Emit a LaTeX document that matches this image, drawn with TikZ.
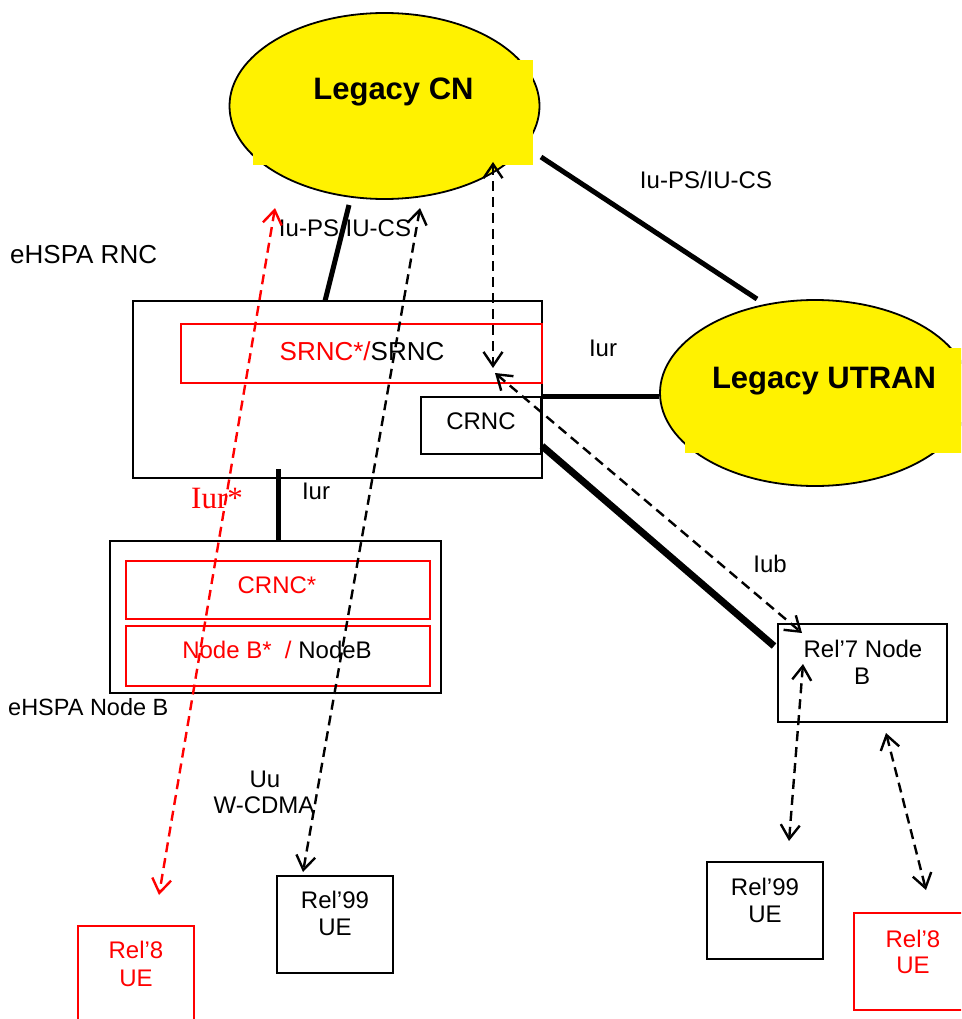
\documentclass[tikz,border=0pt]{standalone}
\usepackage{fontspec}
\setmainfont{Liberation Sans}
\newfontfamily\seriffam{Liberation Serif}
\usetikzlibrary{shapes.geometric,arrows.meta}
\begin{document}
\begin{tikzpicture}[x=1pt,y=-1pt,
  lbl/.style={inner sep=0pt, anchor=base, font=\fontsize{24}{27}\selectfont},
  biglbl/.style={inner sep=0pt, anchor=base, font=\fontsize{26}{29}\selectfont},
  cloudlbl/.style={inner sep=0pt, anchor=base, font=\fontsize{31}{34}\selectfont\bfseries},
  box/.style={draw, line width=2pt, inner sep=0pt},
  redbox/.style={draw=red, line width=2pt, inner sep=0pt},
  cloud/.style={ellipse, draw, line width=1.8pt, fill=yellow, minimum width=310pt, minimum height=186pt, inner sep=0pt},
  ybox/.style={fill=yellow, inner sep=0pt},
  fatlink/.style={line width=5pt},
  heavylink/.style={line width=7pt},
  dlink/.style={line width=2.4pt, dash pattern=on 10pt off 6pt,
    {Straight Barb[length=14pt,width=19pt]}-{Straight Barb[length=14pt,width=19pt]}},
]
\useasboundingbox (0,0) rectangle (961,1019);
\clip (0,0) rectangle (961,1019);

% clouds
\node[cloud] (cn) at (384.5,106) {};
\node[ybox, minimum width=280pt, minimum height=105pt] (cnfill) at (393,112.5) {};
\node[cloudlbl] (cntext) at (393.5,100) {Legacy CN};

\node[cloud] (utran) at (815,393) {};
\node[ybox, minimum width=290pt, minimum height=105pt] (utranfill) at (830,400.5) {};
\node[cloudlbl] (utrantext) at (824,388) {Legacy UTRAN};

% eHSPA RNC
\node[box, minimum width=409pt, minimum height=177pt] (rnc) at (337.5,389.5) {};
\node[redbox, minimum width=361pt, minimum height=59pt] (srnc) at (361.5,353.5) {};
\node[biglbl] (srnctext) at (362,360) {\textcolor{red}{SRNC*/}SRNC};
\node[box, minimum width=120pt, minimum height=57pt] (crnc) at (481,425.5) {};
\node[lbl] (crnctext) at (481,429) {CRNC};

% eHSPA Node B
\node[box, minimum width=331pt, minimum height=152pt] (enb) at (275.5,617) {};
\node[redbox, minimum width=304pt, minimum height=58pt] (crncs) at (278,590) {};
\node[lbl, text=red] (crncstext) at (277,593) {CRNC*};
\node[redbox, minimum width=304pt, minimum height=60pt] (nbs) at (278,656) {};
\node[lbl] (nbstext) at (277,658) {\textcolor{red}{Node B*\ \ /} NodeB};

% Rel'7 Node B and UEs
\node[box, minimum width=169pt, minimum height=98pt] (rel7) at (862.5,673) {};
\node[lbl] (rel7a) at (863,657) {Rel’7 Node};
\node[lbl] (rel7b) at (862,684) {B};

\node[box, minimum width=116pt, minimum height=97pt] (ueA) at (335,924.5) {};
\node[lbl] (ueAa) at (335,908) {Rel’99};
\node[lbl] (ueAb) at (335,935) {UE};

\node[redbox, minimum width=116pt, minimum height=97pt] (ueB) at (136,974.5) {};
\node[lbl, text=red] (ueBa) at (136,958) {Rel’8};
\node[lbl, text=red] (ueBb) at (136,986) {UE};

\node[box, minimum width=116pt, minimum height=97pt] (ueC) at (765,910.5) {};
\node[lbl] (ueCa) at (765,895) {Rel’99};
\node[lbl] (ueCb) at (765,922) {UE};

\node[redbox, minimum width=116pt, minimum height=97pt] (ueD) at (912,961.5) {};
\node[lbl, text=red] (ueDa) at (913,947) {Rel’8};
\node[lbl, text=red] (ueDb) at (913,973) {UE};

% free labels
\node[biglbl, anchor=base west] (rnclbl) at (10,263) {eHSPA RNC};
\node[lbl, anchor=base west, font=\fontsize{23.5}{26}\selectfont] (enblbl) at (8,715) {eHSPA Node B};
\node[lbl] (iu1) at (345,236) {Iu-PS/IU-CS};
\node[lbl] (iu2) at (706,189) {Iu-PS/IU-CS};
\node[lbl] (iur1) at (603,356) {Iur};
\node[lbl] (iur2) at (316,499) {Iur};
\node[inner sep=0pt, anchor=base, text=red, font=\fontsize{31}{34}\seriffam] (iurs) at (217,508) {Iur*};
\node[lbl] (iub) at (770,572) {Iub};
\node[lbl] (uu) at (265,787) {Uu};
\node[lbl] (wcdma) at (264,813) {W-CDMA};

% coordinates for connector ends
\coordinate (t1a) at (349,205);
\coordinate (t1b) at (325,301);
\coordinate (t2a) at (541,157);
\coordinate (t2b) at (757,299);
\coordinate (t4a) at (542,446);
\coordinate (t4b) at (774,646);
\coordinate (t5a) at (278,469);

% thick links
\draw[fatlink] (t1a) -- (t1b);
\draw[fatlink] (t2a) -- (t2b);
\draw[fatlink] (crnc.north east) -- (crnc.north east -| utran.west);
\draw[heavylink] (t4a) -- (t4b);
\draw[fatlink] (t5a) -- (t5a |- enb.north);

% dashed signalling arrows
\coordinate (d1a) at (275,208);
\coordinate (d1b) at (159,895);
\coordinate (d2a) at (420,208);
\coordinate (d2b) at (303,872);
\coordinate (d3a) at (493,162);
\coordinate (d3b) at (493,368);
\coordinate (d4a) at (495,373);
\coordinate (d4b) at (802,633);
\coordinate (d5a) at (803,664);
\coordinate (d5b) at (789,841);
\coordinate (d6a) at (886,733);
\coordinate (d6b) at (926,890);

\draw[dlink, red] (d1a) -- (d1b);
\draw[dlink] (d2a) -- (d2b);
\draw[dlink] (d3a) -- (d3b);
\draw[dlink] (d4a) -- (d4b);
\draw[dlink] (d5a) -- (d5b);
\draw[dlink] (d6a) -- (d6b);
\end{tikzpicture}
\end{document}
